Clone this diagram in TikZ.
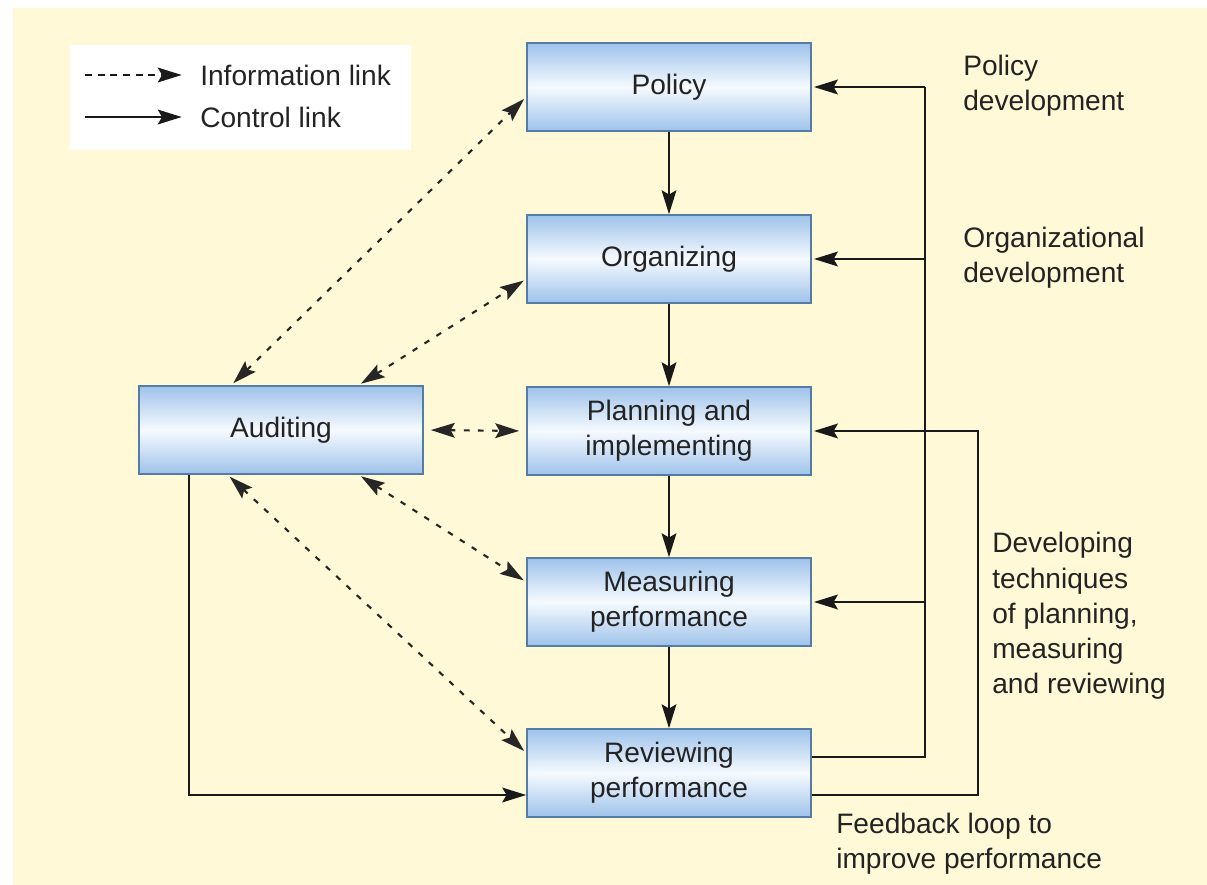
\documentclass[tikz,border=0pt]{standalone}
\usepackage{fontspec}
\setmainfont{Liberation Sans}
\usepackage{tikz}
\usetikzlibrary{
  positioning,
  arrows.meta,
  calc
}
\definecolor{PaperCream}{RGB}{255,249,215}
\definecolor{BoxEdge}{RGB}{84,124,164}
\definecolor{BoxBlue}{RGB}{158,194,234}
\definecolor{BoxLight}{RGB}{246,250,255}
\definecolor{InkGray}{RGB}{35,35,35}

\begin{document}
\begin{tikzpicture}[
  x=0.025cm, y=-0.025cm,
  font=\fontsize{20}{25}\selectfont,
  >={Stealth[length=17pt,width=10.5pt,inset=3pt]},
  box/.style={
    draw=BoxEdge,
    line width=1.1pt,
    top color=BoxBlue,
    bottom color=BoxBlue,
    middle color=BoxLight,
    minimum width=7.1cm,
    minimum height=2.2cm,
    align=center,
    inner sep=0pt,
    text=InkGray
  },
  ctrl/.style={->, line width=1.3pt, black!90},
  wire/.style={line width=1.3pt, black!90},
  info/.style={<->, line width=1.5pt, black!85,
    dash pattern=on 4pt off 6pt, shorten <=2pt, shorten >=2pt},
  lbl/.style={anchor=west, align=left, inner sep=0pt, text=InkGray},
]
  % ========== page ==========
  \path[use as bounding box, fill=white] (0,0) rectangle (1207,885);
  \fill[PaperCream] (13,8) rectangle (1207,885);

  % ========== legend ==========
  \node[fill=white, inner sep=0pt, minimum width=8.52cm, minimum height=2.62cm]
    (key) at (240.5,97.5) {};
  \node[lbl] (kinfo) at (200,75) {Information link};
  \node[lbl] (kctrl) at (200,117) {Control link};
  \coordinate (ki) at (85,75);
  \coordinate (kc) at (85,117);
  \draw[->, line width=1.3pt, black!90, dash pattern=on 5pt off 4pt,
    shorten >=13pt] (ki) -- (kinfo.west);
  \draw[ctrl, shorten >=13pt] (kc) -- (kctrl.west);

  % ========== main column ==========
  \node[box] (policy) at (669,87)  {Policy};
  \node[box] (org)    at (669,259) {Organizing};
  \node[box] (plan)   at (669,431) {Planning and\\implementing};
  \node[box] (meas)   at (669,602) {Measuring\\performance};
  \node[box] (rev)    at (669,773) {Reviewing\\performance};
  \node[box] (audit)  at (281,430) {Auditing};

  \draw[ctrl] (policy) -- (org);
  \draw[ctrl] (org) -- (plan);
  \draw[ctrl] (plan) -- (meas);
  \draw[ctrl] (meas) -- (rev);

  % ========== information links (auditing) ==========
  \draw[info] (audit.138) -- (policy.184);
  \draw[info] (audit.30) -- (org.188);
  \draw[info, shorten <=5pt, shorten >=5pt] (audit.east) -- (plan.west);
  \draw[info] (audit.-30) -- (meas.172);
  \draw[info] (audit.220) -- (rev.172);

  % auditing -> reviewing (control)
  \coordinate (Lx) at (189,0);
  \coordinate (Yhi) at (0,757);
  \coordinate (Ylo) at (0,795);
  \draw[ctrl] (audit.south-|Lx) |- (rev.west|-Ylo);

  % ========== right side feedback ==========
  \coordinate (R1x) at (925,0);
  \coordinate (R2x) at (978,0);
  \draw[wire] (rev.east|-Yhi) -- (Yhi-|R1x) -- (policy.east-|R1x);
  \foreach \B in {policy,org,meas}
    \draw[ctrl, shorten >=1.5pt] (\B.east-|R1x) -- (\B.east);
  \draw[ctrl, shorten >=1.5pt] (rev.east|-Ylo) -| (R2x|-plan.east) -- (plan.east);

  % ========== labels ==========
  \node[lbl] (lpol) at (963,86)  {Policy\\development};
  \node[lbl] (lorg) at (963,258) {Organizational\\development};
  \node[lbl] (ldev) at (992,616) {Developing\\techniques\\of planning,\\measuring\\and reviewing};
  \node[lbl] (lfb)  at (836,844) {Feedback loop to\\improve performance};

\end{tikzpicture}
\end{document}
